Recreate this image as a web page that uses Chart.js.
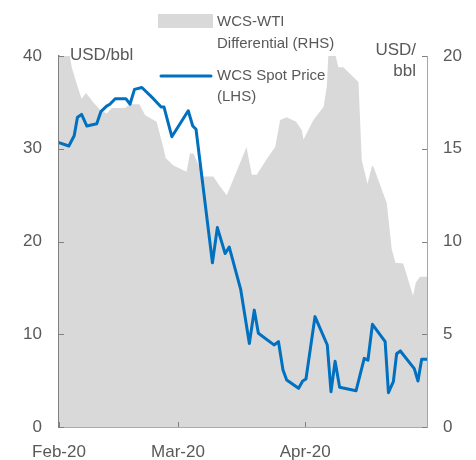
<!DOCTYPE html>
<html>
<head>
<meta charset="utf-8">
<script src="https://cdn.jsdelivr.net/npm/chart.js@4.4.1/dist/chart.umd.min.js"></script>
<style>
  body { margin: 0; background: #fff; }
  #wrap { width: 476px; height: 460px; }
</style>
</head>
<body>
<div id="wrap"><canvas id="grafico" width="476" height="460"></canvas></div>
<script>
// dias contados a partir de 1 fev 2020
var tickDias = [0, 29, 60]
var tickLabels = ['Feb-20', 'Mar-20', 'Apr-20']

// WCS-WTI Differential (RHS), USD/bbl
var difDias = [0, 2.3, 3.1, 4.3, 5.5, 6.6, 8.4, 10, 11.6, 12.9, 16.1, 17.3, 19.6, 21, 23.8, 25.4, 26, 27.9,
    31.1, 31.9, 32.8, 35.2, 37.6, 39.3, 40.9, 43.7, 45.7, 47, 48.2, 51, 52.7, 53.9, 55.5, 57.8, 59.2, 59.6,
    62, 64.5, 65.3, 65.7, 67.1, 68.1, 69.3, 73, 73.8, 75.2, 76.3, 76.7, 79.9, 81.1, 82, 83.9, 86.3, 87, 88, 89.7]
var difValores = [20.5, 20.5, 19.4, 18.5, 17.7, 18.0, 17.5, 17.1, 16.9, 17.2, 17.2, 17.4, 17.4, 16.8, 16.46, 15.1, 14.5, 14.1,
    13.76, 14.75, 14.75, 13.5, 13.5, 12.95, 12.5, 14.0, 15.1, 13.6, 13.6, 14.57, 15.1, 16.55, 16.7, 16.46, 16.0, 15.5,
    16.55, 17.27, 18.4, 20.3, 20.3, 19.4, 19.4, 18.6, 14.4, 13.1, 14.1, 14.0, 12.06, 9.6, 8.85, 8.82, 7.08, 7.8, 8.1, 8.1]

// WCS Spot Price (LHS), USD/bbl
var precoDias = [0, 2.4, 3.7, 4.5, 5.5, 6.8, 9.2, 10.2, 11.6, 12.4, 13.7, 16.3, 17.3, 18.4, 20.2, 23, 24.9, 25.6,
    27.5, 31.5, 32.6, 33.4, 37.4, 38.6, 40.5, 41.5, 44.3, 46.4, 47.6, 48.6, 52.4, 53.5, 54.6, 55.5, 58.4, 59.4,
    60.2, 62.4, 65.4, 66.3, 67.3, 68.4, 72.4, 74.4, 75.3, 76.4, 79.5, 80.3, 81.5, 82.3, 83.2, 86.6, 87.5, 88.4, 89.7]
var precoValores = [30.65, 30.3, 31.4, 33.4, 33.7, 32.45, 32.7, 34.0, 34.6, 34.8, 35.4, 35.4, 34.8, 36.4, 36.6, 35.4, 34.5, 34.5,
    31.3, 34.1, 32.45, 32.1, 17.7, 21.5, 18.7, 19.4, 14.8, 9.0, 12.6, 10.1, 8.85, 9.2, 6.15, 5.07, 4.17, 4.96,
    5.17, 11.9, 8.84, 3.8, 7.1, 4.28, 3.9, 7.4, 7.2, 11.07, 9.2, 3.7, 4.9, 7.9, 8.2, 6.3, 4.96, 7.3, 7.3]

const CINZA_TXT = '#595959'
const FONTE = 'Liberation Sans, Arial, sans-serif'

function pares(xs, ys) {
    return xs.map((x, i) => ({ x: x, y: ys[i] }))
}

// ticks para dentro + legenda + titulos dos eixos
const extras = {
    id: 'extras',
    afterDraw(chart) {
        const ctx = chart.ctx
        const a = chart.chartArea
        const sx = chart.scales.x, sy = chart.scales.y, sy2 = chart.scales.y2
        ctx.save()
        ctx.strokeStyle = '#808080'
        ctx.lineWidth = 1
        ctx.beginPath()
        sy.ticks.forEach(t => {
            const p = Math.round(sy.getPixelForValue(t.value)) + 0.5
            ctx.moveTo(a.left, p); ctx.lineTo(a.left + 5, p)
        })
        sy2.ticks.forEach(t => {
            const p = Math.round(sy2.getPixelForValue(t.value)) + 0.5
            ctx.moveTo(a.right, p); ctx.lineTo(a.right - 5, p)
        })
        sx.ticks.forEach(t => {
            const p = Math.round(sx.getPixelForValue(t.value)) + 0.5
            ctx.moveTo(p, a.bottom); ctx.lineTo(p, a.bottom - 5)
        })
        ctx.stroke()

        ctx.fillStyle = CINZA_TXT
        ctx.textBaseline = 'middle'
        ctx.font = '17px ' + FONTE
        ctx.textAlign = 'left'
        ctx.fillText('USD/bbl', 70, 55)
        ctx.textAlign = 'right'
        ctx.fillText('USD/', 416, 50)
        ctx.fillText('bbl', 416, 71)

        // legenda
        ctx.textAlign = 'left'
        ctx.font = '15px ' + FONTE
        ctx.fillStyle = '#d9d9d9'
        ctx.fillRect(158, 14, 55, 14)
        ctx.fillStyle = CINZA_TXT
        ctx.fillText('WCS-WTI', 217, 22)
        ctx.fillText('Differential (RHS)', 217, 44)
        ctx.strokeStyle = '#0070c0'
        ctx.lineWidth = 3
        ctx.lineCap = 'round'
        ctx.beginPath()
        ctx.moveTo(161, 76); ctx.lineTo(211, 76)
        ctx.stroke()
        ctx.fillText('WCS Spot Price', 217, 76)
        ctx.fillText('(LHS)', 217, 97)
        ctx.restore()
    }
}

var ctx = document.getElementById('grafico').getContext('2d')
var chart = new Chart(ctx, {
    type: 'line',
    data: {
        datasets: [
            {
                label: 'WCS Spot Price (LHS)',
                data: pares(precoDias, precoValores),
                yAxisID: 'y',
                borderColor: '#0070c0',
                borderWidth: 3,
                borderJoinStyle: 'round',
                borderCapStyle: 'round',
                pointRadius: 0,
                fill: false,
                tension: 0,
                order: 1
            },
            {
                label: 'WCS-WTI Differential (RHS)',
                data: pares(difDias, difValores),
                yAxisID: 'y2',
                borderWidth: 0,
                borderColor: 'rgba(0,0,0,0)',
                backgroundColor: '#d9d9d9',
                pointRadius: 0,
                fill: 'origin',
                tension: 0,
                order: 2
            }
        ]
    },
    options: {
        responsive: false,
        animation: false,
        devicePixelRatio: 1,
        layout: { padding: { top: 56, left: 0, right: 0, bottom: 0 } },
        plugins: { legend: { display: false }, tooltip: { enabled: false } },
        scales: {
            x: {
                type: 'linear',
                min: 0,
                max: 89.7,
                afterBuildTicks: s => { s.ticks = tickDias.map(v => ({ value: v })) },
                afterFit: s => { s.height = 33 },
                grid: { display: false, drawTicks: false },
                border: { display: true, color: '#595959', width: 1.5 },
                ticks: {
                    color: CINZA_TXT,
                    font: { size: 17, family: FONTE },
                    padding: 15,
                    maxRotation: 0,
                    callback: v => tickLabels[tickDias.indexOf(v)]
                }
            },
            y: {
                position: 'left',
                min: 0,
                max: 40,
                afterFit: s => { s.width = 59 },
                grid: { display: false, drawTicks: false },
                border: { display: true, color: '#808080', width: 1.5 },
                ticks: { stepSize: 10, color: CINZA_TXT, font: { size: 17, family: FONTE }, padding: 17 }
            },
            y2: {
                position: 'right',
                min: 0,
                max: 20,
                afterFit: s => { s.width = 49 },
                grid: { display: false, drawTicks: false },
                border: { display: true, color: '#a6a6a6', width: 1 },
                ticks: { stepSize: 5, color: CINZA_TXT, font: { size: 17, family: FONTE }, padding: 16 }
            }
        }
    },
    plugins: [extras]
});
</script>
</body>
</html>
